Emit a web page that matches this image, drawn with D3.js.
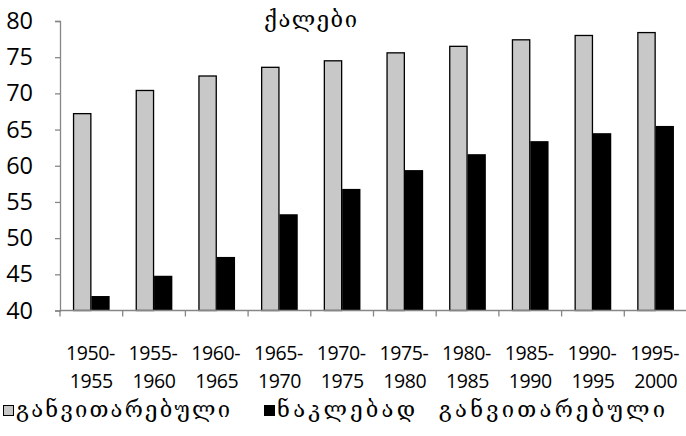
<!DOCTYPE html>
<html><head><meta charset="utf-8">
<script src="https://cdn.jsdelivr.net/npm/d3@7"></script>
<style>body{margin:0;background:#fff}svg{display:block}</style>
</head><body>
<svg id="c" width="686" height="436"></svg>
<script>
const periodStart = ["1950-","1955-","1960-","1965-","1970-","1975-","1980-","1985-","1990-","1995-"];
const periodEnd = ["1955","1960","1965","1970","1975","1980","1985","1990","1995","2000"];
const developed = [67.2,70.4,72.4,73.6,74.5,75.6,76.5,77.4,78.0,78.4];
const lessDeveloped = [42.0,44.8,47.4,53.3,56.8,59.4,61.6,63.4,64.5,65.5];
const yTicks = [40,45,50,55,60,65,70,75,80];
const seriesNames = ["განვითარებული","ნაკლებად  განვითარებული"];
const title = "ქალები";

const svg = d3.select("#c");
const L = 60, R = 687, T = 21, B = 310.5;
const x = d3.scaleBand().domain(d3.range(periodStart.length)).range([L, R]).paddingInner(0).paddingOuter(0);
const y = d3.scaleLinear().domain([40, 80]).range([B, T]);
const georgian = "'DejaVu Serif','DejaVu Sans',serif";
const numFont = "'Open Sans',sans-serif";
const bw = 18.3;

// y axis
const ya = svg.append("g").attr("transform", `translate(${L},0)`)
  .call(d3.axisLeft(y).tickValues(yTicks).tickSize(5).tickPadding(22));
ya.select(".domain").attr("stroke", "#868686").attr("stroke-width", 1.3);
ya.selectAll(".tick line").attr("stroke", "#868686").attr("stroke-width", 1.3);
ya.selectAll(".tick text").attr("font-family", numFont).attr("font-size", 23.5).attr("fill", "#000");

// bars
const g = svg.append("g");
const cx = i => x(i) + x.bandwidth() / 2;
g.selectAll("rect.dev").data(developed).enter().append("rect")
  .attr("x", (d, i) => cx(i) - bw + 0.5).attr("width", bw - 1)
  .attr("y", d => y(d)).attr("height", d => B - y(d))
  .attr("fill", "#c8c8c8").attr("stroke", "#000").attr("stroke-width", 1.3);
g.selectAll("rect.less").data(lessDeveloped).enter().append("rect")
  .attr("x", (d, i) => cx(i)).attr("width", bw)
  .attr("y", d => y(d)).attr("height", d => B - y(d))
  .attr("fill", "#000");

// x axis
const xa = svg.append("g").attr("transform", `translate(0,${B})`);
xa.append("line").attr("x1", L).attr("x2", R).attr("stroke", "#868686").attr("stroke-width", 1.3);
xa.selectAll("line.t").data(d3.range(periodStart.length + 1)).enter().append("line")
  .attr("x1", i => L + i * x.bandwidth()).attr("x2", i => L + i * x.bandwidth())
  .attr("y1", 0).attr("y2", 6).attr("stroke", "#868686").attr("stroke-width", 1.3);
xa.selectAll("text.a").data(periodStart).enter().append("text")
  .attr("x", (d, i) => cx(i) - 1).attr("y", 49.5).attr("text-anchor", "middle")
  .attr("font-family", numFont).attr("font-size", 19.5).attr("letter-spacing", -0.4).text(d => d);
xa.selectAll("text.b").data(periodEnd).enter().append("text")
  .attr("x", (d, i) => cx(i)).attr("y", 77.5).attr("text-anchor", "middle")
  .attr("font-family", numFont).attr("font-size", 19.5).attr("letter-spacing", -0.4).text(d => d);

// title
svg.append("text").attr("x", 264).attr("y", 27)
  .attr("font-family", georgian).attr("font-size", 22)
  .attr("textLength", 93).attr("lengthAdjust", "spacing").text(title);

// legend
const lg = svg.append("g");
const legX = [3, 264];
const legW = [214, 388];
const fills = ["#c8c8c8", "#000"];
seriesNames.forEach((n, i) => {
  lg.append("rect").attr("x", legX[i] + 0.5).attr("y", 405.5).attr("width", 10).attr("height", 10)
    .attr("fill", fills[i]).attr("stroke", "#000").attr("stroke-width", 1);
  lg.append("text").attr("x", legX[i] + 13).attr("y", 417).attr("font-family", georgian)
    .attr("font-size", 22).attr("xml:space", "preserve").style("white-space", "pre")
    .attr("textLength", legW[i]).attr("lengthAdjust", "spacing").text(n);
});
</script>
</body></html>
